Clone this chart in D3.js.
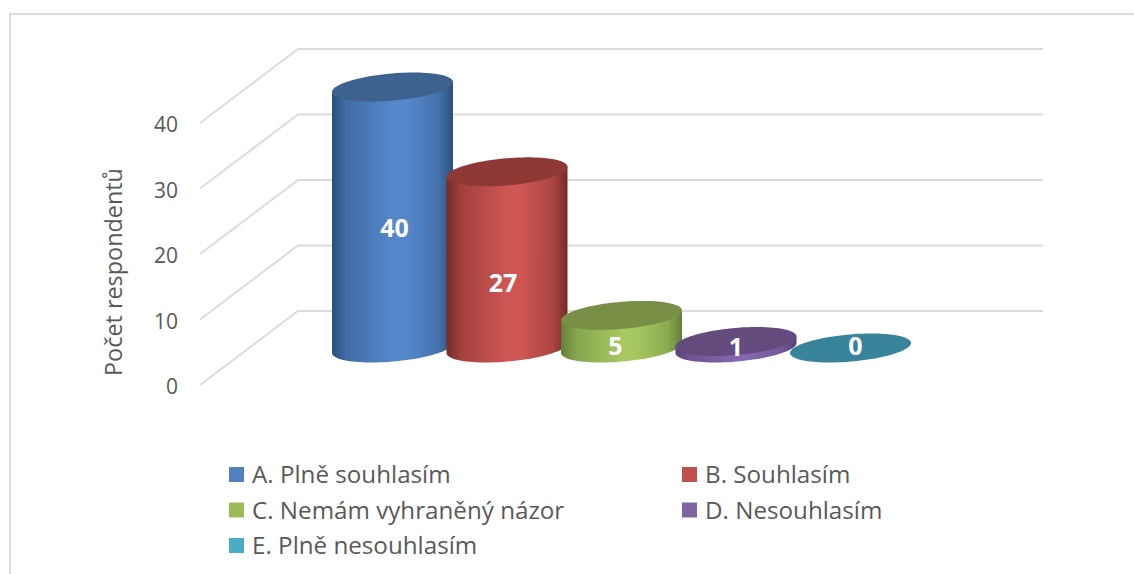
<!DOCTYPE html>
<html>
<head>
<meta charset="utf-8">
<script src="https://cdn.jsdelivr.net/npm/d3@7/dist/d3.min.js"></script>
<style>
html,body{margin:0;padding:0;background:#fff;overflow:hidden}
svg{display:block}
text{font-family:"Open Sans",Lato,sans-serif}
</style>
</head>
<body>
<svg id="chart" width="1134" height="574"></svg>
<script>
const categories = ["A. Plně souhlasím","B. Souhlasím","C. Nemám vyhraněný názor","D. Nesouhlasím","E. Plně nesouhlasím"];
const values = [40,27,5,1,0];
const yTicks = [0,10,20,30,40];
const axisTitle = "Počet respondentů";
const legendColors = ["#4f81bd","#c0504d","#9bbb59","#8064a2","#4bacc6"];
const topColors = ["#3d628f","#8f3936","#788f45","#634b7d","#38849a"];
const edgeColors = ["#2b4f7c","#732c2a","#64803a","#574078","#2f7a90"];
const midColors = ["#5588cb","#ce5653","#a7c761","#8567ae","#4fb3ce"];
const labelDx = [2,-4,-6,0,5];
const labelDy = [10,23,14,2,-2];

const svg = d3.select("#chart");
const grid = "#dcdcdc";

svg.append("path").attr("d","M10,574V14H1134").attr("fill","none").attr("stroke","#dddddd").attr("stroke-width",2);

const backY = d3.scaleLinear().domain([0,40]).range([311,49]);
const frontY = d3.scaleLinear().domain([0,40]).range([385,123]);
const cylY = d3.scaleLinear().domain([0,40]).range([348,87]);
const x = d3.scalePoint().domain(categories).range([392.5,850.5]);

const backLeft = 298, backRight = 1043, frontLeft = 200;
const g = svg.append("g");
g.selectAll("path.grid").data(yTicks).join("path").attr("class","grid")
  .attr("d",d=>`M${frontLeft},${frontY(d)}L${backLeft},${backY(d)}H${backRight}`)
  .attr("fill","none").attr("stroke",grid).attr("stroke-width",2);

g.selectAll("text.tick").data(yTicks).join("text").attr("class","tick")
  .attr("x",178).attr("y",d=>frontY(d)+1.5).attr("dy","0.36em").attr("text-anchor","end")
  .attr("font-size",21).attr("fill","#595959").text(d=>d);

svg.append("text").attr("transform","translate(122,272) rotate(-90)")
  .attr("text-anchor","middle").attr("font-size",23.4).attr("fill","#595959").text(axisTitle);

const defs = svg.append("defs");
categories.forEach((c,i)=>{
  const gr = defs.append("linearGradient").attr("id","cyl"+i).attr("x1","0").attr("x2","1").attr("y1","0").attr("y2","0");
  [[0,edgeColors[i]],[0.12,d3.interpolateRgb(edgeColors[i],midColors[i])(0.5)],[0.5,midColors[i]],[0.62,midColors[i]],[0.88,d3.interpolateRgb(edgeColors[i],midColors[i])(0.6)],[1,edgeColors[i]]]
    .forEach(([o,col])=>gr.append("stop").attr("offset",o).attr("stop-color",col));
});

const rx = 60.5, skew = -5, ky = 13.6;
const pt = (cx,cy,t)=>[cx+rx*Math.cos(t), cy+skew*Math.cos(t)+ky*Math.sin(t)];
const ts = d3.range(0,Math.PI+0.001,Math.PI/48);
const line = d3.line();

categories.forEach((c,i)=>{
  const cx = x(c), v = values[i], top = cylY(v), base = cylY(0);
  const s = svg.append("g");
  if(v>0){
    const front = ts.map(t=>pt(cx,base,t));
    const topRight = pt(cx,top,0), topLeft = pt(cx,top,Math.PI);
    s.append("path").attr("d",line([topRight,...front,topLeft])+"Z").attr("fill",`url(#cyl${i})`);
  }
  const topPts = d3.range(0,Math.PI*2,Math.PI/48).map(t=>pt(cx,top,t));
  s.append("path").attr("d",line(topPts)+"Z").attr("fill",topColors[i]);
});

categories.forEach((c,i)=>{
  svg.append("text").attr("x",x(c)+labelDx[i]).attr("y",(cylY(values[i])+cylY(0))/2+labelDy[i])
    .attr("dy","0.36em").attr("text-anchor","middle").attr("font-size",25).attr("font-weight",700)
    .attr("fill","#fff").text(values[i]);
});

const legX = [229,682], legY = [474.5,510,545.5];
categories.forEach((c,i)=>{
  const lx = legX[i%2], ly = legY[Math.floor(i/2)];
  svg.append("rect").attr("x",lx).attr("y",ly-7.5).attr("width",15).attr("height",15).attr("fill",legendColors[i]);
  svg.append("text").attr("x",lx+23).attr("y",ly).attr("dy","0.36em").attr("font-size",24.2).attr("fill","#595959").text(c);
});
</script>
</body>
</html>
